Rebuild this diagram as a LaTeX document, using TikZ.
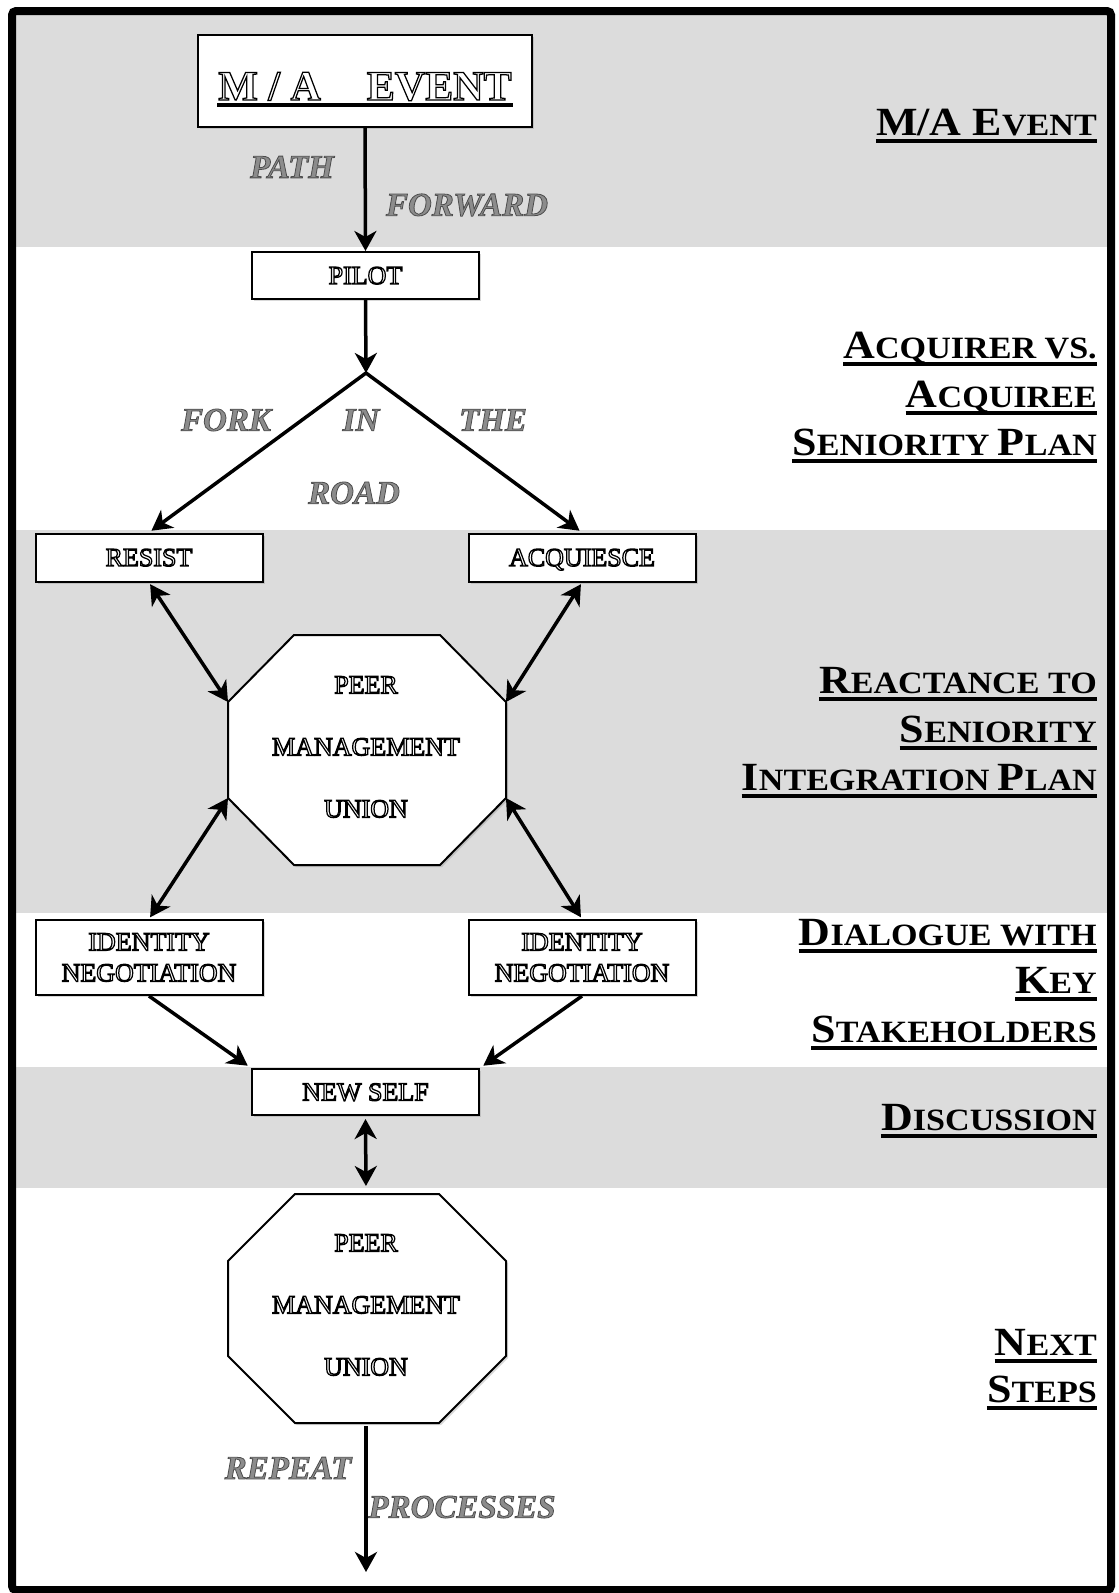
\documentclass[tikz,border=0pt]{standalone}
\usepackage{fontspec}
\setmainfont{Liberation Serif}
\newfontfamily\headfont[FakeStretch=1.1]{Liberation Serif}
\usetikzlibrary{arrows.meta,shadows,calc}

\definecolor{bandgray}{RGB}{220,220,220}

% outlined (white-filled) lettering for the flow boxes
\newcommand\engraved[1]{\special{pdf:literal 2 Tr 1.25 w 1 g 0 G}#1\special{pdf:literal 0 Tr 0 g 0 G}}
% grey lettering with dark outline for the path labels
\newcommand\embossed[1]{\special{pdf:literal 2 Tr 0.8 w 0.55 g 0.3 G}#1\special{pdf:literal 0 Tr 0 g 0 G}}
% small capitals: first part at full size, rest at reduced size
\newcommand\smc[2]{{\fontsize{40}{48}\selectfont #1}{\fontsize{31}{48}\selectfont #2}}

\tikzset{
  box/.style={draw, line width=2pt, fill=white, minimum width=227pt, inner sep=0pt,
    drop shadow={shadow xshift=2pt, shadow yshift=-2pt, opacity=0.3},
    font=\fontsize{26}{31}\selectfont, align=center},
  oneline/.style={text depth=0pt},
  octo/.style={draw, line width=2pt, fill=white, line join=miter,
    drop shadow={shadow xshift=2pt, shadow yshift=-2pt, opacity=0.3}},
  octtext/.style={inner sep=0pt, font=\fontsize{26}{62}\selectfont, align=center},
  lbl/.style={inner sep=0pt, font=\fontsize{33}{36}\selectfont\bfseries\itshape},
  head/.style={inner sep=0pt, font=\headfont\bfseries, anchor=base east},
  uline/.style={line width=4pt},
  arr/.style={line width=3.5pt, -{Stealth[length=20pt,width=22pt,inset=6pt]}},
  dbl/.style={line width=3.5pt, {Stealth[length=20pt,width=22pt,inset=6pt]}-{Stealth[length=20pt,width=22pt,inset=6pt]}},
}

\begin{document}
\begin{tikzpicture}[x=1pt,y=-1pt]
\useasboundingbox (0,0) rectangle (1119,1593);

% background bands
\fill[white] (12,11) rectangle (1111,1590);
\fill[bandgray] (12,11) rectangle (1111,247);
\fill[bandgray] (12,530) rectangle (1111,913);
\fill[bandgray] (12,1067) rectangle (1111,1188);

% stage headings
\node[head] (h1) at (1097,135) {\smc{M/A E}{VENT}};
\node[head] (h2a) at (1097,358) {\smc{A}{CQUIRER VS.}};
\node[head] (h2b) at (1097,407) {\smc{A}{CQUIREE}};
\node[head] (h2c) at (1097,455) {\smc{S}{ENIORITY }\smc{P}{LAN}};
\node[head] (h3a) at (1097,693) {\smc{R}{EACTANCE TO}};
\node[head] (h3b) at (1097,742) {\smc{S}{ENIORITY}};
\node[head] (h3c) at (1097,790) {\smc{I}{NTEGRATION }\smc{P}{LAN}};
\node[head] (h4a) at (1097,945) {\smc{D}{IALOGUE WITH}};
\node[head] (h4b) at (1097,993) {\smc{K}{EY}};
\node[head] (h4c) at (1097,1042) {\smc{S}{TAKEHOLDERS}};
\node[head] (h5) at (1097,1130) {\smc{D}{ISCUSSION}};
\node[head] (h6a) at (1097,1355) {\smc{N}{EXT}};
\node[head] (h6b) at (1097,1402) {\smc{S}{TEPS}};
\foreach \h in {h1,h2a,h2b,h2c,h3a,h3b,h3c,h4a,h4b,h4c,h5,h6a,h6b}
  \draw[uline] ($(\h.base west)+(0,6)$) -- ($(\h.base east)+(0,6)$);

% flow boxes
\node[box, minimum width=334pt, minimum height=92pt] (ma) at (365,81) {};
\node[anchor=base west, inner sep=0pt, font=\fontsize{42}{50}\selectfont\bfseries] (matext) at (218,100)
  {\engraved{M / A\hspace{46pt}EVENT}};
\draw[line width=3.5pt] ($(matext.base west)+(-1,5)$) -- ($(matext.base east)+(1,5)$);

\node[box, oneline, minimum height=47pt] (pilot) at (365.5,275.5) {\engraved{PILOT}};
\node[box, oneline, minimum height=48pt] (resist) at (149,557.5) {\engraved{RESIST}};
\node[box, oneline, minimum height=48pt] (acq) at (582,557.5) {\engraved{ACQUIESCE}};
\node[box, minimum height=75pt] (idl) at (149,957.5) {\engraved{IDENTITY\\NEGOTIATION}};
\node[box, minimum height=75pt] (idr) at (582,957.5) {\engraved{IDENTITY\\NEGOTIATION}};
\node[box, oneline, minimum height=46pt] (ns) at (365.5,1092) {\engraved{NEW SELF}};

% first octagon
\filldraw[octo] (294,635) -- (440,635) -- (506,702) -- (506,798) -- (440,865)
  -- (294,865) -- (228,798) -- (228,702) -- cycle;
\coordinate (o1nw) at (228,702);
\coordinate (o1ne) at (506,702);
\coordinate (o1sw) at (228,798);
\coordinate (o1se) at (506,798);
\node[octtext] (oct1) at (366,747) {\engraved{PEER\\MANAGEMENT\\UNION}};

% second octagon
\filldraw[octo] (295,1194) -- (439,1194) -- (506,1261) -- (506,1356) -- (439,1423)
  -- (295,1423) -- (228,1356) -- (228,1261) -- cycle;
\coordinate (o2n) at (366,1194);
\coordinate (o2s) at (366,1423);
\node[octtext] (oct2) at (366,1305) {\engraved{PEER\\MANAGEMENT\\UNION}};

% fork point and loose end
\coordinate (fork) at (366,373);
\coordinate (rpend) at (366,1572);

% connectors
\draw[arr] (ma.south) -- (pilot.north);
\draw[arr] (pilot.south) -- (fork);
\draw[dbl, shorten <=3pt, shorten >=3pt] (resist.north) -- (fork) -- (acq.north);
\draw[dbl, shorten <=2pt] (resist.south) -- (o1nw);
\draw[dbl, shorten <=2pt] (acq.south) -- (o1ne);
\draw[dbl, shorten >=2pt] (o1sw) -- (idl.north);
\draw[dbl, shorten >=2pt] (o1se) -- (idr.north);
\draw[arr, shorten >=4pt] (idl.south) -- (ns.north west);
\draw[arr, shorten >=4pt] (idr.south) -- (ns.north east);
\draw[dbl, shorten <=3pt, shorten >=8pt] (ns.south) -- (o2n);
\draw[arr, shorten <=3pt] (o2s) -- (rpend);

% path labels
\node[lbl] (lpath) at (292,167) {\embossed{PATH}};
\node[lbl] (lforward) at (467,205) {\embossed{FORWARD}};
\node[lbl] (lfork) at (226,420) {\embossed{FORK}};
\node[lbl] (lin) at (361,420) {\embossed{IN}};
\node[lbl] (lthe) at (493,420) {\embossed{THE}};
\node[lbl] (lroad) at (354,493) {\embossed{ROAD}};
\node[lbl] (lrepeat) at (288,1468) {\embossed{REPEAT}};
\node[lbl] (lprocesses) at (462,1507) {\embossed{PROCESSES}};

% outer frame
\draw[line width=8pt, rounded corners=4pt] (12,11) rectangle (1111,1590);
\end{tikzpicture}
\end{document}
